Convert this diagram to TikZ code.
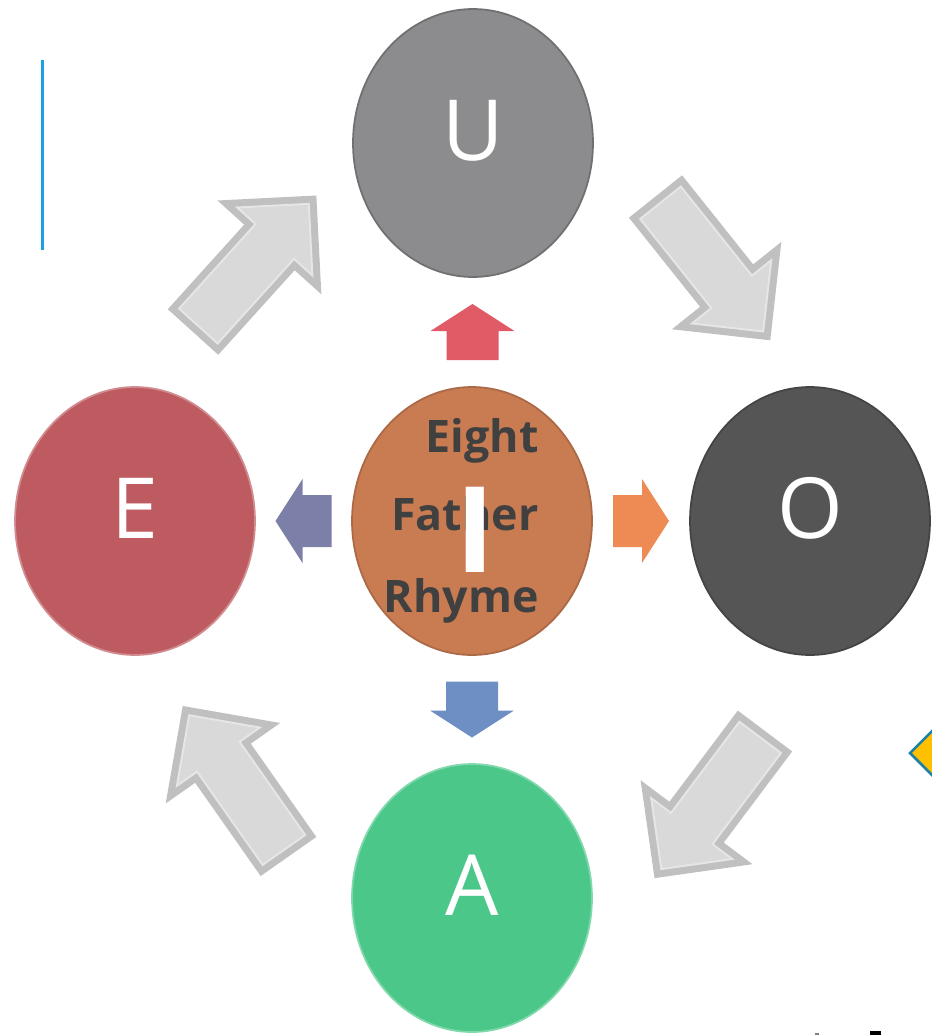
\documentclass[tikz,border=0pt]{standalone}
\usepackage{fontspec}
\setmainfont{Open Sans}
\usetikzlibrary{shapes.geometric,calc}

\definecolor{ucol}{HTML}{8C8C8E}
\definecolor{ecol}{HTML}{BD5B61}
\definecolor{icol}{HTML}{C97B52}
\definecolor{ocol}{HTML}{555555}
\definecolor{acol}{HTML}{4CC78A}
\definecolor{wordgray}{HTML}{404040}
\definecolor{upred}{HTML}{E05B66}
\definecolor{downblue}{HTML}{6E8FC4}
\definecolor{rightorange}{HTML}{EE8B55}
\definecolor{leftpurple}{HTML}{7C7FA8}
\definecolor{arrowdark}{HTML}{C0C0C0}
\definecolor{arrowlight}{HTML}{D9D9D9}
\definecolor{arrowline}{HTML}{E6E6E6}
\definecolor{barblue}{HTML}{1BA1E2}
\definecolor{diamondfill}{HTML}{FFC000}
\definecolor{diamondedge}{HTML}{1B7FA6}

\tikzset{
  vowel/.style={ellipse, minimum width=4.8cm, minimum height=5.36cm, inner sep=0pt,
    line width=1pt, text=white, font=\fontsize{48}{50}\selectfont,
    text height=1.2cm, text depth=0.52cm},
  word/.style={text=wordgray, inner sep=0pt, font=\bfseries\fontsize{25.5}{28}\selectfont},
  bigouter/.style={fill=arrowdark},
  biginner/.style={fill=arrowlight, draw=arrowline, line width=1.1pt}
}

\begin{document}
\begin{tikzpicture}[x=0.02cm, y=-0.02cm]
\useasboundingbox (0,0) rectangle (932,1035);
\clip (0,0) rectangle (932,1035);
%vowel circles
\node[vowel, fill=ucol, draw=ucol!80!black] (U) at (473,143) {U};
\node[vowel, fill=ecol, draw=ecol!70!white] (E) at (135,521) {E};
\node[vowel, fill=icol, draw=icol!85!black] (I) at (472,521) {};
\node[vowel, fill=ocol, draw=ocol!80!black] (O) at (810,521) {O};
\node[vowel, fill=acol, draw=acol!70!white] (A) at (472,898) {A};
%words in the middle
\foreach \w/\y in {Eight/452,Father/530,Rhyme/612}{
\node[word, anchor=base east] (\w) at (539,\y) {\w};
}
\node[text=white, inner sep=0pt, font=\bfseries\fontsize{68}{70}\selectfont] (Iletter) at (475.5,529.5) {I};
%small arrows
\foreach \p/\q/\a/\c in {I.north/U.south/90/upred, I.east/O.west/0/rightorange, I.south/A.north/-90/downblue, I.west/E.east/180/leftpurple}{
\coordinate (m) at ($(\p)!0.5!(\q)$);
\begin{scope}[shift={(m)}, rotate=\a]
\fill[\c] (-28,26) -- (1,26) -- (1,42) -- (28,0) -- (1,-42) -- (1,-26) -- (-28,-26) -- cycle;
\end{scope}
}
%big gray arrows
\foreach \x/\y/\a in {193/332/47.9, 655.5/196.5/-51.4, 765/731/233.1, 288.5/856.5/125.1}{
\begin{scope}[shift={(\x,\y)}, rotate=\a]
\fill[bigouter] (0,34) -- (114,34) -- (114,70) -- (184,0) -- (114,-70) -- (114,-34) -- (0,-34) -- cycle;
\filldraw[biginner] (8,26) -- (122,26) -- (122,50.7) -- (172.7,0) -- (122,-50.7) -- (122,-26) -- (8,-26) -- cycle;
\end{scope}
}
%side marks
\draw[barblue, line width=0.06cm] (42,60) -- (42,250);
\filldraw[fill=diamondfill, draw=diamondedge, line width=0.05cm] (910,753) -- (955,708) -- (1000,753) -- (955,798) -- cycle;
\fill[black] (870,1031) rectangle (881,1035);
\fill[gray] (815,1033) rectangle (819,1035);
\end{tikzpicture}
\end{document}
